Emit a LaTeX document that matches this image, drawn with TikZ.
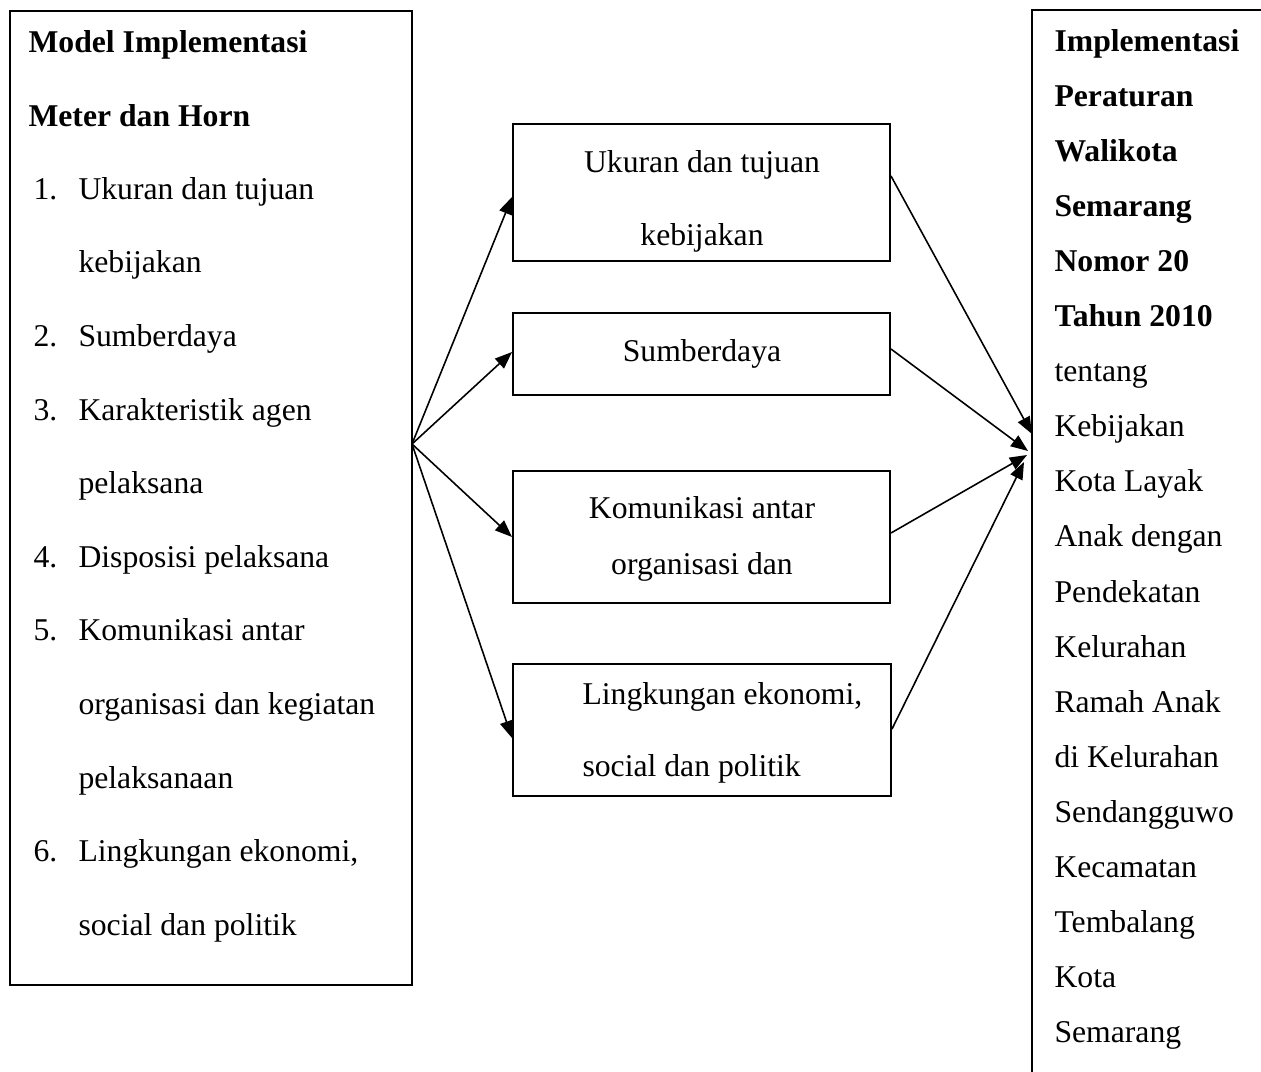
\documentclass[tikz,border=0pt]{standalone}
\usepackage{fontspec}
\setmainfont{Liberation Serif}
\usetikzlibrary{arrows.meta,fit}
\begin{document}
\begin{tikzpicture}[x=0.3788pt,y=-0.3788pt,
  box/.style={draw, line width=0.75pt, inner sep=0pt},
  txt/.style={anchor=base west, inner sep=0pt, font=\fontsize{12pt}{14pt}\selectfont},
  btxt/.style={txt, font=\fontsize{12pt}{14pt}\selectfont\bfseries},
  ctxt/.style={anchor=base, inner sep=0pt, font=\fontsize{12pt}{14pt}\selectfont},
  arr/.style={-{Triangle[length=6.5pt,width=5pt]}, line width=0.6pt}]
\useasboundingbox (0,0) rectangle (1261,1071);
\clip (0,0) rectangle (1261,1071);

% boxes
\node[box, fit={(10,11) (412,985)}] (lbox) {};
\node[box, fit={(513,124) (890,261)}] (b1) {};
\node[box, fit={(513,313) (890,395)}] (b2) {};
\node[box, fit={(513,471) (890,603)}] (b3) {};
\node[box, fit={(513,664) (891,796)}] (b4) {};
\node[box, fit={(1032,10) (1300,1120)}] (rbox) {};

% left box text
\node[btxt] (lt1) at (28,52) {Model Implementasi};
\node[btxt] (lt2) at (28,126) {Meter dan Horn};
\node[txt] (n1) at (33,199) {1.};
\node[txt] (i1a) at (78,199) {Ukuran dan tujuan};
\node[txt] (i1b) at (78,272.6) {kebijakan};
\node[txt] (n2) at (33,346) {2.};
\node[txt] (i2a) at (78,346) {Sumberdaya};
\node[txt] (n3) at (33,420) {3.};
\node[txt] (i3a) at (78,420) {Karakteristik agen};
\node[txt] (i3b) at (78,493) {pelaksana};
\node[txt] (n4) at (33,567) {4.};
\node[txt] (i4a) at (78,567) {Disposisi pelaksana};
\node[txt] (n5) at (33,640.6) {5.};
\node[txt] (i5a) at (78,640.6) {Komunikasi antar};
\node[txt] (i5b) at (78,714) {organisasi dan kegiatan};
\node[txt] (i5c) at (78,788) {pelaksanaan};
\node[txt] (n6) at (33,861) {6.};
\node[txt] (i6a) at (78,861) {Lingkungan ekonomi,};
\node[txt] (i6b) at (78,935) {social dan politik};

% middle box text
\node[ctxt] (m1a) at (702,172) {Ukuran dan tujuan};
\node[ctxt] (m1b) at (702,245) {kebijakan};
\node[ctxt] (m2a) at (702,361) {Sumberdaya};
\node[ctxt] (m3a) at (702,518) {Komunikasi antar};
\node[ctxt] (m3b) at (702,574) {organisasi dan};
\node[txt] (m4a) at (582,704) {Lingkungan ekonomi,};
\node[txt] (m4b) at (582,776) {social dan politik};

% right box text
\node[btxt] (r1) at (1054,51) {Implementasi};
\node[btxt] (r2) at (1054,106.1) {Peraturan};
\node[btxt] (r3) at (1054,161.2) {Walikota};
\node[btxt] (r4) at (1054,216.3) {Semarang};
\node[btxt] (r5) at (1054,271.4) {Nomor 20};
\node[btxt] (r6) at (1054,326.5) {Tahun 2010};
\node[txt] (r7) at (1054,381.6) {tentang};
\node[txt] (r8) at (1054,436.7) {Kebijakan};
\node[txt] (r9) at (1054,491.8) {Kota Layak};
\node[txt] (r10) at (1054,546.9) {Anak dengan};
\node[txt] (r11) at (1054,602) {Pendekatan};
\node[txt] (r12) at (1054,657.1) {Kelurahan};
\node[txt] (r13) at (1054,712.2) {Ramah Anak};
\node[txt] (r14) at (1054,767.3) {di Kelurahan};
\node[txt] (r15) at (1054,822.4) {Sendangguwo};
\node[txt] (r16) at (1054,877.5) {Kecamatan};
\node[txt] (r17) at (1054,932.6) {Tembalang};
\node[txt] (r18) at (1054,987.7) {Kota};
\node[txt] (r19) at (1054,1042.8) {Semarang};

% connector points
\coordinate (src) at (412,444);
\coordinate (y1) at (0,197);
\coordinate (y2) at (0,352);
\coordinate (y3) at (0,537);
\coordinate (y4) at (0,738);
\coordinate (s1) at (0,176);
\coordinate (s2) at (0,349);
\coordinate (s3) at (0,533);
\coordinate (s4) at (0,729);
\coordinate (e1) at (1032,434);
\coordinate (e2) at (1028,451);
\coordinate (e3) at (1027,455);
\coordinate (e4) at (1024,462);

\draw[arr] (src) -- (b1.west |- y1);
\draw[arr] (src) -- (b2.west |- y2);
\draw[arr] (src) -- (b3.west |- y3);
\draw[arr] (src) -- (b4.west |- y4);

\draw[arr] (b1.east |- s1) -- (e1);
\draw[arr] (b2.east |- s2) -- (e2);
\draw[arr] (b3.east |- s3) -- (e3);
\draw[arr] (b4.east |- s4) -- (e4);
\end{tikzpicture}
\end{document}
